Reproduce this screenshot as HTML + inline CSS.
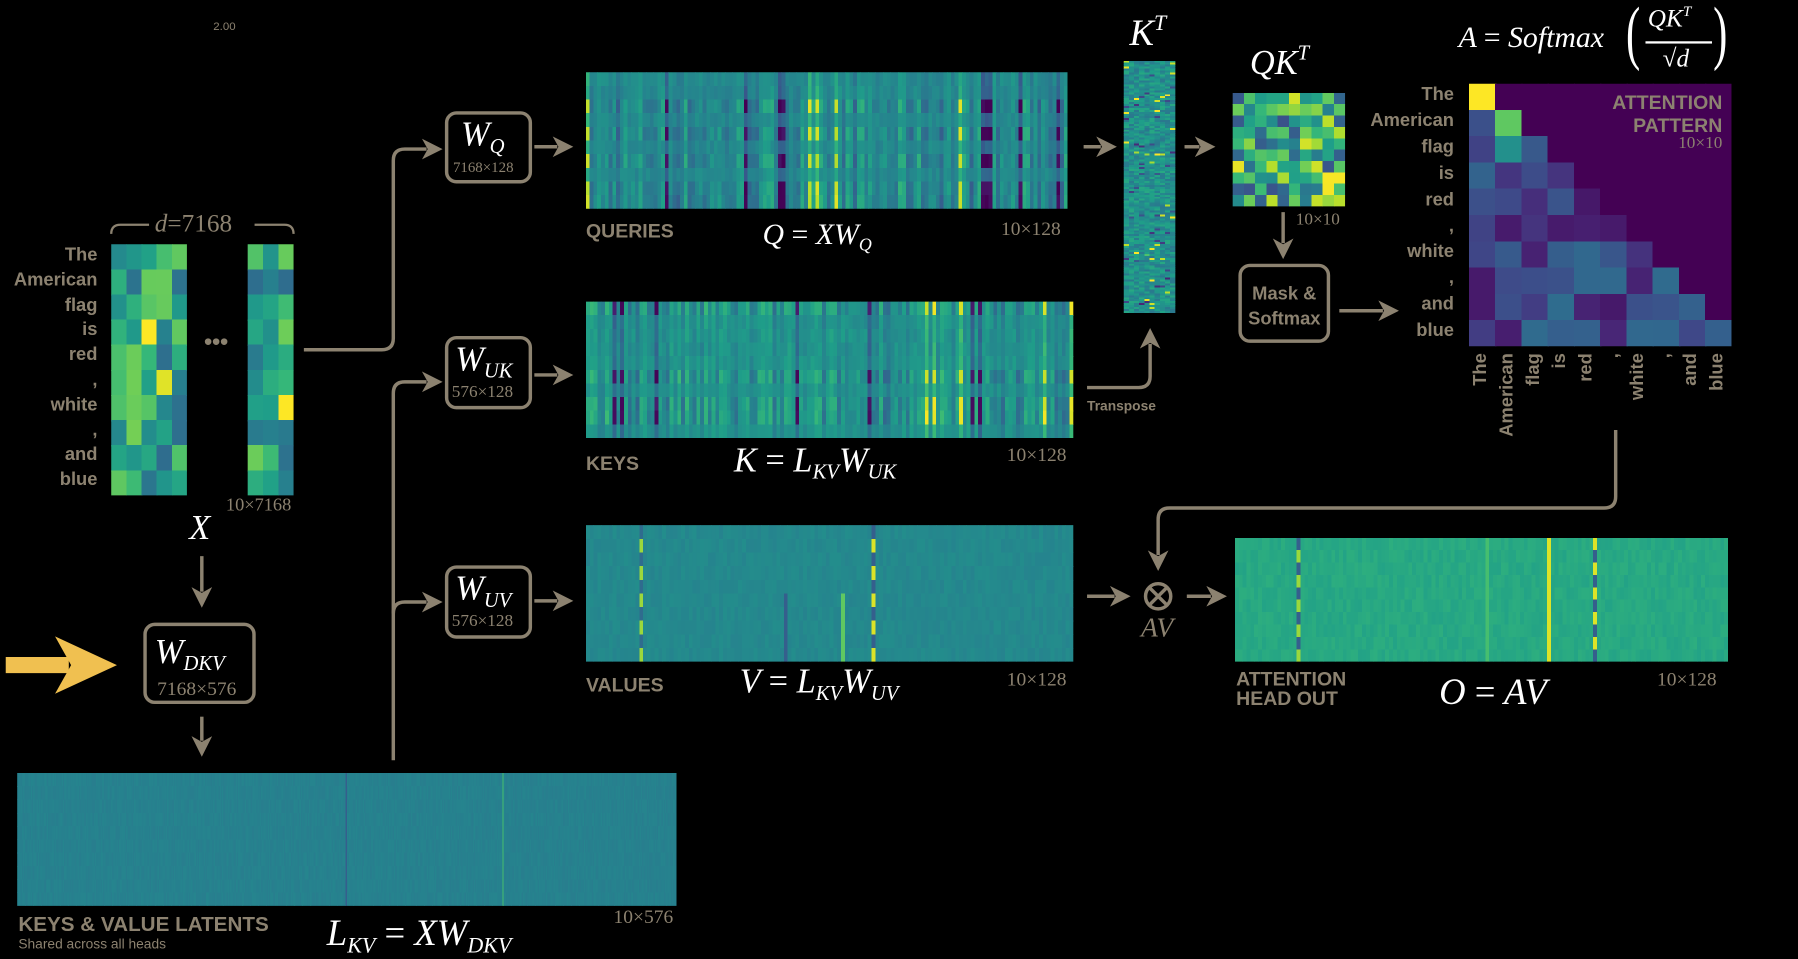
<!DOCTYPE html>
<html><head><meta charset="utf-8">
<style>
html,body{margin:0;padding:0;background:#000;width:1798px;height:951px;overflow:hidden}
#w{position:absolute;left:0;top:0;width:1568px;height:829px;transform:scale(1.14668);transform-origin:0 0;background:#000}
.t{position:absolute;color:#8c8270;font-family:"Liberation Sans Narrow","Liberation Sans",sans-serif;font-weight:bold;white-space:nowrap}
.m{position:absolute;color:#fff;font-family:"Liberation Serif",serif;font-style:italic;white-space:nowrap}
.d{position:absolute;color:#8c8270;font-family:"Liberation Serif",serif;white-space:nowrap;font-size:16px}
.hm{position:absolute}
.box{position:absolute;border:3px solid #8c8270;border-radius:10px;box-sizing:border-box}
sub{font-size:60%;vertical-align:-0.35em}
sup{font-size:60%;vertical-align:0.7em}
</style></head><body>
<div id="w">
<svg width="1568" height="829" style="position:absolute;left:0;top:0" fill="none" stroke="#8c8270" stroke-width="3">
<defs><marker id="a" markerWidth="20" markerHeight="20" refX="4" refY="9" orient="auto" markerUnits="userSpaceOnUse"><path d="M0,0 L18,9 L0,18 L5,9z" fill="#8c8270" stroke="none"/></marker></defs>
<path d="M265,305 H333 Q343,305 343,295 V140 Q343,130 353,130 H372" marker-end="url(#a)"/>
<path d="M343,663 V343 Q343,333 353,333 H372" marker-end="url(#a)"/>
<path d="M343,535 Q343,525 353,525 H372" marker-end="url(#a)"/>
<path d="M466,128 H486" marker-end="url(#a)"/>
<path d="M466,327 H486" marker-end="url(#a)"/>
<path d="M466,524 H486" marker-end="url(#a)"/>
<path d="M176,485 V516" marker-end="url(#a)"/>
<path d="M176,625 V646" marker-end="url(#a)"/>
<path d="M945,128 H960" marker-end="url(#a)"/>
<path d="M1033,128 H1046" marker-end="url(#a)"/>
<path d="M948,338 H993 Q1003,338 1003,328 V300" marker-end="url(#a)"/>
<path d="M1119,185 V212" marker-end="url(#a)"/>
<path d="M1168,271 H1206" marker-end="url(#a)"/>
<path d="M1409,375 V433 Q1409,443 1399,443 H1020 Q1010,443 1010,453 V484" marker-end="url(#a)"/>
<path d="M948,520 H972" marker-end="url(#a)"/>
<path d="M1035,520 H1056" marker-end="url(#a)"/>
<circle cx="1010" cy="520" r="11"/>
<path d="M1002,512 L1018,528 M1018,512 L1002,528"/>
<path d="M97,204 Q97,196 105,196 H130 M222,196 H248 Q256,196 256,204" stroke-width="2"/>
<path d="M5,580 H60" stroke="#f0c050" stroke-width="14"/>
<path d="M48,555 L102,580 L48,605 L62,580z" fill="#f0c050" stroke="none"/>
</svg>
<div class="d" style="left:186px;top:18px;font-size:10px;font-family:'Liberation Sans'">2.00</div>

<div class="hm" id="X1" style="left:97px;top:213px;width:66px;height:219px"></div>
<div class="hm" id="X2" style="left:216px;top:213px;width:40px;height:219px"></div>
<div class="t" style="left:178px;top:288px;font-size:20px;color:#8c8270">•••</div>
<div class="m" style="left:135px;top:182px;font-size:22px;color:#8c8270">d<span style="font-style:normal">=7168</span></div>
<div class="d" style="left:197px;top:432px">10×7168</div>
<div class="m" style="left:165px;top:444px;font-size:30px">X</div>
<div id="rl"></div>

<div class="box" style="left:125px;top:543px;width:98px;height:71px"></div>
<div class="m" style="left:135px;top:552px;font-size:30px">W<sub>DKV</sub></div>
<div class="d" style="left:137px;top:591px;font-size:17px">7168×576</div>

<div class="box" style="left:388px;top:97px;width:76px;height:63px"></div>
<div class="m" style="left:402px;top:101px;font-size:30px">W<sub>Q</sub></div>
<div class="d" style="left:395px;top:138px;font-size:13px">7168×128</div>
<div class="box" style="left:388px;top:293px;width:76px;height:64px"></div>
<div class="m" style="left:397px;top:297px;font-size:30px">W<sub>UK</sub></div>
<div class="d" style="left:394px;top:334px;font-size:15px">576×128</div>
<div class="box" style="left:388px;top:493px;width:76px;height:64px"></div>
<div class="m" style="left:397px;top:497px;font-size:30px">W<sub>UV</sub></div>
<div class="d" style="left:394px;top:534px;font-size:15px">576×128</div>

<div class="hm" id="Q" style="left:511px;top:63px;width:420px;height:119px"></div>
<div class="t" style="left:511px;top:192px;font-size:17px">QUERIES</div>
<div class="m" style="left:665px;top:190px;font-size:26px">Q <span style="font-style:normal">=</span> XW<sub>Q</sub></div>
<div class="d" style="left:873px;top:190px;font-size:17px">10×128</div>

<div class="hm" id="K" style="left:511px;top:263px;width:425px;height:119px"></div>
<div class="t" style="left:511px;top:395px;font-size:17px">KEYS</div>
<div class="m" style="left:640px;top:385px;font-size:30px">K <span style="font-style:normal">=</span> L<sub>KV</sub>W<sub>UK</sub></div>
<div class="d" style="left:878px;top:387px;font-size:17px">10×128</div>

<div class="hm" id="V" style="left:511px;top:458px;width:425px;height:119px"></div>
<div class="t" style="left:511px;top:588px;font-size:17px">VALUES</div>
<div class="m" style="left:645px;top:578px;font-size:30px">V <span style="font-style:normal">=</span> L<sub>KV</sub>W<sub>UV</sub></div>
<div class="d" style="left:878px;top:583px;font-size:17px">10×128</div>

<div class="hm" id="L" style="left:15px;top:674px;width:575px;height:116px"></div>
<div class="t" style="left:16px;top:796px;font-size:18px">KEYS &amp; VALUE LATENTS</div>
<div class="t" style="left:16px;top:816px;font-size:12px;font-weight:normal">Shared across all heads</div>
<div class="m" style="left:285px;top:795px;font-size:32px">L<sub>KV</sub> <span style="font-style:normal">=</span> XW<sub>DKV</sub></div>
<div class="d" style="left:535px;top:790px;font-size:17px">10×576</div>

<div class="hm" id="KT" style="left:980px;top:53px;width:45px;height:220px"></div>
<div class="m" style="left:985px;top:10px;font-size:32px">K<sup>T</sup></div>
<div class="t" style="left:948px;top:347px;font-size:12px">Transpose</div>

<div class="hm" id="QK" style="left:1075px;top:81px;width:98px;height:99px"></div>
<div class="m" style="left:1090px;top:36px;font-size:30px">QK<sup>T</sup></div>
<div class="d" style="left:1130px;top:184px;font-size:15px">10×10</div>
<div class="box" style="left:1080px;top:230px;width:80px;height:69px"></div>
<div class="t" style="left:1080px;top:246px;width:80px;text-align:center;font-size:16px;line-height:22px">Mask &amp;<br>Softmax</div>

<div class="hm" id="A" style="left:1281px;top:73px;width:229px;height:229px"></div>
<div class="t" style="left:1380px;top:80px;width:122px;text-align:right;font-size:17px;line-height:20px;color:#8c8270">ATTENTION<br>PATTERN</div>
<div class="d" style="left:1440px;top:117px;width:62px;text-align:right;font-size:15px;color:#8c8270">10×10</div>
<div class="m" style="left:1272px;top:18px;font-size:26px">A <span style="font-style:normal">=</span> Softmax</div>
<div class="m" style="left:1418px;top:-6px;font-size:62px;font-style:normal;transform:scaleX(0.6);transform-origin:left">(</div>
<div class="m" style="left:1494px;top:-6px;font-size:62px;font-style:normal;transform:scaleX(0.6);transform-origin:left">)</div>
<div class="m" style="left:1437px;top:2px;font-size:22px">QK<sup>T</sup></div>
<div style="position:absolute;left:1435px;top:36px;width:58px;height:1.5px;background:#fff"></div>
<div class="m" style="left:1450px;top:38px;font-size:22px"><span style="font-style:normal">√</span>d</div>
<div id="cl"></div>

<div class="hm" id="O" style="left:1077px;top:469px;width:430px;height:108px"></div>
<div class="t" style="left:1078px;top:584px;font-size:17px;line-height:17px">ATTENTION<br>HEAD OUT</div>
<div class="m" style="left:1255px;top:585px;font-size:32px">O <span style="font-style:normal">=</span> AV</div>
<div class="d" style="left:1445px;top:583px;font-size:17px">10×128</div>
<div class="m" style="left:995px;top:535px;font-size:24px;color:#8c8270">AV</div>
</div>
<script>
var s=7;function r(){s=(s*16807)%2147483647;return s/2147483647;}
var V=[[68,1,84],[72,40,120],[62,74,137],[49,104,142],[38,130,142],[31,158,137],[53,183,121],[109,205,89],[180,222,44],[253,231,37]];
function c(v){v=Math.max(0,Math.min(1,v))*9;var i=Math.min(8,Math.floor(v)),f=v-i,a=V[i],b=V[i+1];return 'rgb('+[0,1,2].map(function(k){return Math.round(a[k]+(b[k]-a[k])*f)}).join(',')+')';}
function hm(id,rows,cols,fn){var e=document.getElementById(id),h='<svg width="100%" height="100%" viewBox="0 0 '+cols+' '+rows+'" preserveAspectRatio="none" style="display:block" shape-rendering="crispEdges">';
for(var y=0;y<rows;y++)for(var x=0;x<cols;x++)h+='<rect x="'+x+'" y="'+y+'" width="1.05" height="1.05" fill="'+c(fn(x,y))+'"/>';e.innerHTML=h+'</svg>';}
function colhm(id,rows,cols,base,strong){var cv=[];for(var x=0;x<cols;x++){var q=r();cv.push(q<0.1?(r()<0.5?-0.45:0.45):(r()-0.5)*0.3);}
hm(id,rows,cols,function(x,y){var v=base+(r()-0.5)*0.08;var m=(strong.indexOf(y)>=0)?1:0.35;return v+cv[x]*m;});}
colhm('Q',10,128,0.47,[2,4,6,8,9]);
colhm('K',10,128,0.5,[0,5,7,8]);
hm('X1',10,5,function(){return 0.35+r()*0.65*(r()<0.8?0.7:1.4)});
hm('X2',10,3,function(){return 0.35+r()*0.65*(r()<0.8?0.7:1.4)});
hm('KT',128,10,function(x,y){return 0.5+(r()-0.5)*0.2+(r()<0.03?0.45:0)-(r()<0.03?0.3:0)});
hm('QK',10,10,function(){return 0.25+r()*0.75});
hm('V',10,128,function(x,y){var v=0.47+(r()-0.5)*0.04;if(x==14)v=y%2?0.85:0.35;if(x==52&&y>4)v=0.3;if(x==67&&y>4)v=0.75;if(x==75)v=y%2?0.95:0.3;return v;});
hm('O',10,128,function(x,y){var v=0.6+(r()-0.5)*0.05;if(x==16)v=y%2?0.85:0.3;if(x==65)v=0.7;if(x==81)v=0.95;if(x==93)v=y%2?0.3:0.95;return v;});
hm('L',10,576,function(x,y){var v=0.44+(r()-0.5)*0.03;if(x==287)v=0.3;if(x==424)v=0.7;return v;});
hm('A',10,10,function(x,y){if(x>y)return 0.0;if(x==0&&y==0)return 1;if(x==1&&y==1)return 0.75;if(y==2&&x==1)return 0.5;return 0.05+r()*0.3;});
var w=['The','American','flag','is','red',',','white',',','and','blue'];
var rl='',cl='';for(var i=0;i<10;i++){rl+='<div class="t" style="left:0;width:85px;text-align:right;top:'+(214+i*21.8)+'px;font-size:16px">'+w[i]+'</div>';
cl+='<div class="t" style="left:1188px;width:80px;text-align:right;top:'+(74+i*22.9)+'px;font-size:16px">'+w[i]+'</div>';
cl+='<div class="t" style="left:'+(1281+i*22.9+11)+'px;top:308px;font-size:16px;transform:translate(-100%,0) rotate(-90deg);transform-origin:100% 0;text-align:right;width:80px;line-height:0">'+w[i]+'</div>';}
document.getElementById('rl').innerHTML=rl;document.getElementById('cl').innerHTML=cl;
</script>
</body></html>
